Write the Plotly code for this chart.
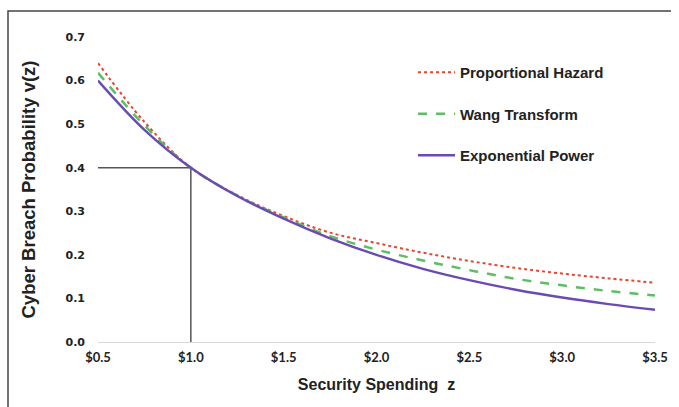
import plotly.graph_objects as go

z = [0.5, 0.75, 1.0, 1.25, 1.5, 1.75, 2.0, 2.25, 2.5, 2.75, 3.0, 3.25, 3.5]
prop_hazard = [0.640, 0.505, 0.400, 0.337, 0.289, 0.251, 0.227, 0.205, 0.186, 0.170, 0.157, 0.146, 0.136]
wang = [0.618, 0.497, 0.400, 0.336, 0.286, 0.243, 0.212, 0.187, 0.165, 0.145, 0.130, 0.117, 0.107]
exp_power = [0.600, 0.487, 0.400, 0.335, 0.283, 0.238, 0.200, 0.168, 0.142, 0.120, 0.102, 0.087, 0.074]

x_ticks = [0.5, 1.0, 1.5, 2.0, 2.5, 3.0, 3.5]
x_tick_labels = ["$0.5", "$1.0", "$1.5", "$2.0", "$2.5", "$3.0", "$3.5"]
y_ticks = [0.0, 0.1, 0.2, 0.3, 0.4, 0.5, 0.6, 0.7]
y_tick_labels = ["0.0", "0.1", "0.2", "0.3", "0.4", "0.5", "0.6", "0.7"]

ref_z = 1.0
ref_v = 0.4

W, H = 679, 407
ML, MR, MT, MB = 98, 24, 37, 65
PW, PH = W - ML - MR, H - MT - MB

def px(xp):
    return (xp - ML) / PW

def py(yp):
    return (H - MB - yp) / PH

fig = go.Figure()

# reference lines at z=1
fig.add_trace(go.Scatter(x=[z[0], ref_z, ref_z], y=[ref_v, ref_v, 0], mode="lines",
                         line=dict(color="#555555", width=1.5), showlegend=False, hoverinfo="skip"))

fig.add_trace(go.Scatter(x=z, y=prop_hazard, mode="lines", name="Proportional Hazard",
                         line=dict(color="#E8452C", width=2, dash="dot", shape="spline"),
                         legendgroup="a"))
fig.add_trace(go.Scatter(x=z, y=wang, mode="lines", name="Wang Transform",
                         line=dict(color="#5DBE64", width=2.5, dash="dash", shape="spline"),
                         legendgroup="b"))
fig.add_trace(go.Scatter(x=z, y=exp_power, mode="lines", name="Exponential Power",
                         line=dict(color="#6A4BB4", width=2.4, shape="spline"),
                         legendgroup="c"))

fig.update_layout(
    width=W, height=H,
    margin=dict(l=ML, r=MR, t=MT, b=MB),
    paper_bgcolor="white", plot_bgcolor="white",
    font=dict(family="Liberation Sans, Arial, sans-serif", color="#222222"),
    legend=dict(x=px(413), y=py(56), xanchor="left", yanchor="top",
                font=dict(size=15, weight="bold", color="#222222"),
                tracegroupgap=19, bgcolor="rgba(0,0,0,0)", itemwidth=37),
    xaxis=dict(range=[0.5, 3.5], tickvals=x_ticks, ticktext=x_tick_labels,
               showgrid=False, zeroline=False, showline=True, linecolor="#D9D9D9", linewidth=1,
               ticks="", tickfont=dict(family="Lato, sans-serif", size=13, weight="bold", color="#222222"),
               ticklabelstandoff=3,
               title=dict(text="Security Spending  z", font=dict(size=16, weight="bold", color="#222222"),
                          standoff=15)),
    yaxis=dict(range=[0, 0.7], tickvals=y_ticks, ticktext=y_tick_labels,
               showgrid=False, zeroline=False, showline=False, ticks="",
               tickfont=dict(family="DejaVu Sans, sans-serif", size=11, weight="bold", color="#222222"),
               ticklabelstandoff=12,
               title=dict(text="Cyber Breach Probability v(z)", font=dict(size=18.5, weight="bold", color="#222222"),
                          standoff=25)),
    shapes=[dict(type="path", xref="paper", yref="paper",
                 path=f"M {px(8)} {py(407)} L {px(8)} {py(11)} L {px(671)} {py(11)}",
                 line=dict(color="#444444", width=1.5))],
)

fig.write_html("out.html", config={"displayModeBar": False},
               post_script="document.body.style.margin='0';document.body.style.overflow='hidden';")
